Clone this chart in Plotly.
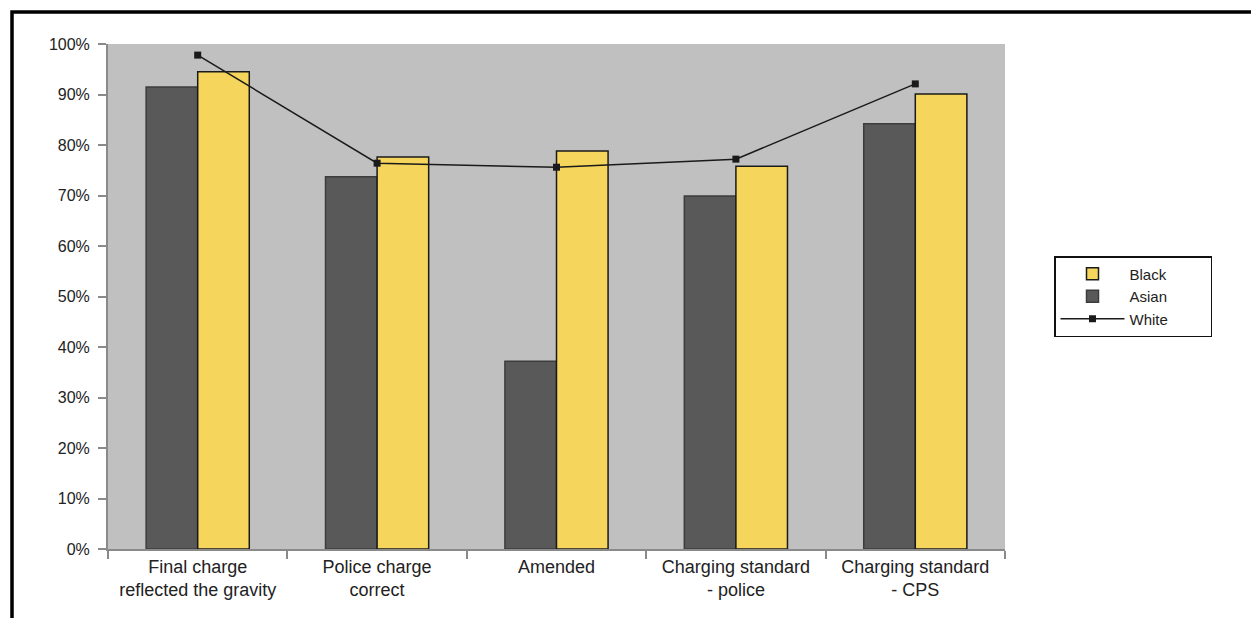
import plotly.graph_objects as go

categories = [
    "Final charge<br>reflected the gravity",
    "Police charge<br>correct",
    "Amended",
    "Charging standard<br>- police",
    "Charging standard<br>- CPS",
]
asian = [0.915, 0.737, 0.372, 0.699, 0.842]
black = [0.945, 0.776, 0.788, 0.758, 0.901]
white = [0.978, 0.764, 0.756, 0.772, 0.921]
y_ticks = [i / 10 for i in range(11)]

W, H = 1251, 618
L, R, T, B = 108, 246, 44, 69
pw, ph = W - L - R, H - T - B

def px_x(x):
    return (x - L) / pw

def px_y(y):
    return (H - B - y) / ph

# trailing non-breaking spaces widen the legend box on the right
PAD = "\u00a0" * 9

fig = go.Figure()
fig.add_trace(go.Bar(
    x=categories, y=asian, name="Asian" + PAD, legendrank=2,
    marker=dict(color="#595959", line=dict(color="#3c3c3c", width=1.5)),
))
fig.add_trace(go.Bar(
    x=categories, y=black, name="Black" + PAD, legendrank=1,
    marker=dict(color="#F5D55B", line=dict(color="#1a1a1a", width=1.5)),
))
fig.add_trace(go.Scatter(
    x=categories, y=white, name="White" + PAD, legendrank=3, mode="lines+markers",
    line=dict(color="#1a1a1a", width=1.5),
    marker=dict(symbol="square", size=7, color="#1a1a1a"),
))

fig.update_layout(
    width=W, height=H,
    margin=dict(l=L, r=R, t=T, b=B),
    paper_bgcolor="white",
    plot_bgcolor="#C0C0C0",
    barmode="group",
    bargap=0.425,
    bargroupgap=0,
    font=dict(family="Liberation Sans, Arial, sans-serif", size=16, color="#222222"),
    showlegend=True,
    legend=dict(
        x=px_x(1054), y=px_y(256), xanchor="left", yanchor="top",
        bgcolor="white", bordercolor="#111111", borderwidth=1.5,
        font=dict(size=15, color="#222222"),
        itemwidth=64, tracegroupgap=0,
    ),
    xaxis=dict(
        showline=True, linecolor="#8a8a8a", linewidth=2,
        ticks="outside", tickcolor="#8a8a8a", ticklen=8, tickwidth=2,
        tickson="boundaries", showgrid=False,
        tickfont=dict(size=18),
    ),
    yaxis=dict(
        range=[0, 1], tickvals=y_ticks, tickformat=".0%",
        showline=True, linecolor="#8a8a8a", linewidth=2,
        ticks="outside", tickcolor="#8a8a8a", ticklen=8, tickwidth=2,
        ticklabelstandoff=5,
        showgrid=False, zeroline=False,
    ),
    shapes=[
        dict(type="rect", xref="paper", yref="paper",
             x0=px_x(12), x1=px_x(1300), y0=px_y(12), y1=px_y(700),
             line=dict(color="black", width=3.5), fillcolor="rgba(0,0,0,0)",
             layer="above"),
    ],
)

fig.write_html("out.html")
